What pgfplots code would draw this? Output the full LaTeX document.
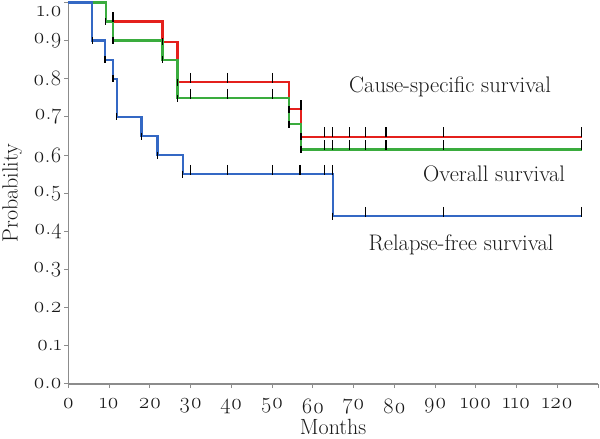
\documentclass[border=0pt]{standalone}
\usepackage{fontspec}
\setmainfont{Latin Modern Roman}[Numbers=OldStyle]
\usepackage{pgfplots}
\pgfplotsset{compat=1.18}
\definecolor{cred}{RGB}{228,32,28}
\definecolor{cgreen}{RGB}{58,172,62}
\definecolor{cblue}{RGB}{52,104,196}
\definecolor{axgray}{RGB}{140,140,140}
\begin{document}
\begin{tikzpicture}
\begin{axis}[
  at={(0pt,0pt)}, anchor=south west,
  scale only axis, width=529.7pt, height=381.5pt,
  xmin=0, xmax=130, ymin=0, ymax=1,
  axis x line*=bottom, axis y line*=left,
  axis line style={axgray, line width=1.3pt},
  tick style={axgray, line width=1pt},
  major tick length=4pt, tick align=outside,
  xtick={0,10,...,130},
  xticklabels={0,10,20,30,40,50,60,70,80,90,100,110,120,},
  ytick={0,0.1,0.2,0.3,0.4,0.5,0.6,0.7,0.8,0.9},
  extra y ticks={1.0},
  extra y tick style={yticklabel style={yshift=-9pt}},
  /pgf/number format/assume math mode=true,
  yticklabel={\pgfmathprintnumber[fixed,fixed zerofill,precision=1,assume math mode=true]{\tick}},
  tick label style={font=\fontsize{22}{24}\selectfont, text=black!90},
  xticklabel style={yshift=-7pt},
  yticklabel style={xshift=1pt},
  xlabel={Months}, ylabel={Probability},
  label style={font=\fontsize{22}{24}\selectfont, text=black!90},
  xlabel style={at={(axis description cs:0.5,0)}, anchor=center, yshift=-43pt},
  ylabel style={at={(axis description cs:0,0.5)}, anchor=center, yshift=56pt},
  clip=false,
]
% Cause-specific survival
\addplot[const plot, cred, line width=2.3pt] coordinates {
 (0,1) (9.2,0.95) (23.1,0.897) (26.8,0.791) (54.2,0.72) (57.1,0.648) (126,0.648)};
% Overall survival
\addplot[const plot, cgreen, line width=2.3pt] coordinates {
 (0,1) (9.2,0.95) (11.0,0.9) (23.1,0.85) (26.8,0.749) (54.2,0.681) (57.1,0.615) (126,0.615)};
% Relapse-free survival
\addplot[const plot, cblue, line width=2.3pt] coordinates {
 (0,1) (5.9,0.9) (9.0,0.85) (11.0,0.8) (11.9,0.7) (18.0,0.65) (21.9,0.6) (28.1,0.55) (64.9,0.44) (126,0.44)};
% event marks
\addplot[only marks, mark=|, mark size=3.5pt, mark options={black, line width=1.3pt}] coordinates {
 (9.2,0.95) (23.1,0.897) (26.8,0.791) (54.2,0.72) (57.1,0.648)
 (11.0,0.9) (23.1,0.85) (26.8,0.749) (54.2,0.681) (57.1,0.615)
 (5.9,0.9) (9.0,0.85) (11.0,0.8) (11.9,0.7) (18.0,0.65) (21.9,0.6) (28.1,0.55) (64.9,0.44)};
% censor marks
\addplot[only marks, mark=|, mark size=5pt, mark options={black, line width=1.3pt, yshift=4.3pt}] coordinates {
 (11.0,0.95) (30.0,0.791) (39.1,0.791) (50.1,0.791) (57.1,0.72)
 (62.8,0.648) (64.9,0.648) (69.0,0.648) (73.0,0.648) (78.0,0.648) (92.0,0.648) (126,0.648)
 (30.0,0.749) (39.1,0.749) (50.1,0.749)
 (62.8,0.615) (64.9,0.615) (69.0,0.615) (73.0,0.615) (78.0,0.615) (92.0,0.615) (126,0.615)
 (30.0,0.55) (39.1,0.55) (50.1,0.55) (56.9,0.55) (62.8,0.55) (64.9,0.55)
 (73.0,0.44) (92.0,0.44) (126,0.44)};
\node[font=\fontsize{22.5}{24}\selectfont, text=black!90] at (axis cs:93.7,0.778) {Cause-specific survival};
\node[font=\fontsize{22.5}{24}\selectfont, text=black!90] at (axis cs:104.5,0.552) {Overall survival};
\node[font=\fontsize{22.5}{24}\selectfont, text=black!90] at (axis cs:96.4,0.364) {Relapse-free survival};
\end{axis}
\pgfresetboundingbox
\useasboundingbox (-68.3pt,-55pt) rectangle (531.7pt,384pt);
\end{tikzpicture}
\end{document}
